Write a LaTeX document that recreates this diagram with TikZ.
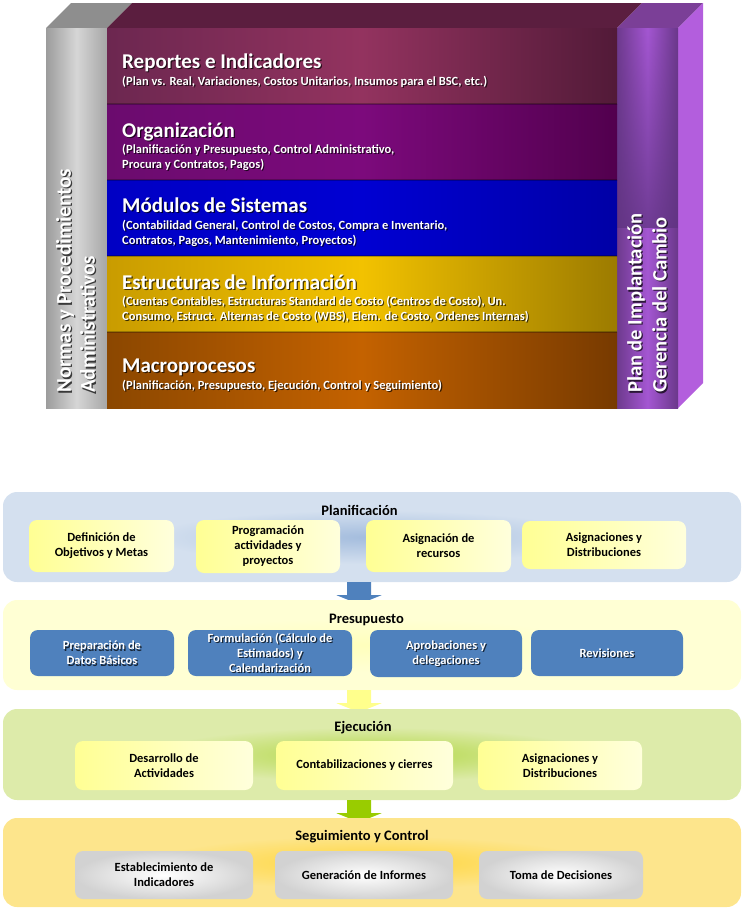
\documentclass[tikz,border=0pt]{standalone}
\usepackage{fontspec}
\setmainfont{Carlito}
\usetikzlibrary{calc,shadings,fadings}
\definecolor{graytop}{HTML}{8E8E8E}
\definecolor{grayL}{HTML}{9C9C9C}
\definecolor{grayM}{HTML}{D6D6D6}
\definecolor{grayR}{HTML}{A6A6A6}
\definecolor{maintop}{HTML}{5B1E3F}
\definecolor{repL}{HTML}{6C2750}
\definecolor{repM}{HTML}{93335F}
\definecolor{repR}{HTML}{521A38}
\definecolor{orgL}{HTML}{6B0B6E}
\definecolor{orgM}{HTML}{7C0A7C}
\definecolor{orgR}{HTML}{52004E}
\definecolor{modL}{HTML}{0000C4}
\definecolor{modM}{HTML}{0000D2}
\definecolor{modR}{HTML}{0000A6}
\definecolor{estL}{HTML}{C99C00}
\definecolor{estM}{HTML}{F2C200}
\definecolor{estR}{HTML}{9C7B00}
\definecolor{macL}{HTML}{8B4700}
\definecolor{macM}{HTML}{C46200}
\definecolor{macR}{HTML}{773A00}
\definecolor{purptop}{HTML}{7B3F97}
\definecolor{purpside}{HTML}{B35EDD}
\definecolor{purpL}{HTML}{6E3A8E}
\definecolor{purpM}{HTML}{A456D2}
\definecolor{purpR}{HTML}{6A388A}
\definecolor{purpdark}{HTML}{5E3380}
\definecolor{planin}{HTML}{A3BCDD}
\definecolor{planout}{HTML}{D4E0EF}
\definecolor{presin}{HTML}{FFFFBC}
\definecolor{presout}{HTML}{FFFFD4}
\definecolor{ejecin}{HTML}{B2D745}
\definecolor{ejecout}{HTML}{DDEBAA}
\definecolor{segin}{HTML}{FFD53A}
\definecolor{segout}{HTML}{FDE58C}
\definecolor{boxYL}{HTML}{FFFF94}
\definecolor{boxYR}{HTML}{FFFFDC}
\definecolor{boxB}{HTML}{4F81BD}
\definecolor{boxG}{HTML}{D2D2D2}
\definecolor{arrB}{HTML}{4F81BD}
\definecolor{arrY}{HTML}{FFFF8C}
\definecolor{arrG}{HTML}{99CC00}
\pgfdeclareradialshading{glowplan}{\pgfpoint{0bp}{0bp}}{color(0bp)=(planin); color(15bp)=(planout); color(50bp)=(planout)}
\pgfdeclareradialshading{glowpres}{\pgfpoint{0bp}{0bp}}{color(0bp)=(presin); color(15bp)=(presout); color(50bp)=(presout)}
\pgfdeclareradialshading{glowejec}{\pgfpoint{0bp}{0bp}}{color(0bp)=(ejecin); color(15bp)=(ejecout); color(50bp)=(ejecout)}
\pgfdeclareradialshading{glowseg}{\pgfpoint{0bp}{0bp}}{color(0bp)=(segin); color(15bp)=(segout); color(50bp)=(segout)}
\newcommand\shtext[4]{%
  \node[#1, text=black, opacity=0.7] at ($(#3)+(1.2,1.2)$) {#4};
  \node[#1] (#2) at (#3) {#4};}
\newcommand\seam[1]{% #1 layer node
  \draw[black, opacity=0.25, line width=1.5] (#1.south west) -- (#1.south east);}
\tikzset{
  layer/.style={rectangle, inner sep=0, outer sep=0, minimum width=510, minimum height=76},
  pillar/.style={rectangle, inner sep=0, outer sep=0, minimum width=61, minimum height=380},
  ltitle/.style={anchor=base west, inner sep=0, text=white, font=\fontsize{21}{24}\selectfont\bfseries},
  lsub/.style={anchor=base west, inner sep=0, text=white, align=left, font=\fontsize{12.5}{15}\selectfont\bfseries},
  ptext/.style={rotate=90, anchor=north west, inner sep=0, text=white, align=left},
  section/.style={rectangle, rounded corners=14, inner sep=0, minimum width=738, shade},
  sectitle/.style={inner sep=0, font=\fontsize{14.5}{17}\selectfont\bfseries},
  boxtxt/.style={rectangle, rounded corners=8, inner sep=0, align=center, font=\fontsize{12.5}{15}\selectfont\bfseries},
  ybox/.style={boxtxt, left color=boxYL, right color=boxYR},
  bbox/.style={boxtxt, fill=boxB},
  bboxtext/.style={inner sep=0, align=center, text=white, font=\fontsize{12.5}{15}\selectfont\bfseries},
  gbox/.style={boxtxt, inner color=white, outer color=boxG},
}
\newcommand\blockarrow[2]{% #1 colour, #2 top coordinate
  \fill[#1] (#2) ++(-12,0) -- ++(24,0) -- ++(0,13) -- ++(10.5,0) -- ++(-22.5,9) -- ++(-22.5,-9) -- ++(10.5,0) -- cycle;}
\begin{document}
\begin{tikzpicture}[x=1pt,y=-1pt]
\useasboundingbox (0,0) rectangle (750,908);
% ---------- 3D block ----------
\fill[graytop] (46,28) -- (71,3) -- (132,3) -- (107,28) -- cycle;
\fill[maintop] (107,28) -- (132,3) -- (642,3) -- (617,28) -- cycle;
\fill[purptop] (617,28) -- (642,3) -- (703,3) -- (678,28) -- cycle;
\fill[purpside] (678,28) -- (703,3) -- (703,383) -- (678,408) -- cycle;
\node[pillar, left color=grayL, right color=grayR, middle color=grayM] (normas) at (76.5,218) {};
\node[pillar, left color=purpL, right color=purpR, middle color=purpM] (plan) at (647.5,218) {};
\fill[purpdark, opacity=0.75, path fading=north] (plan.north west) rectangle ($(plan.north east)+(0,200)$);
\node[layer, left color=repL, right color=repR, middle color=repM] (rep) at (362,66) {};
\node[layer, left color=orgL, right color=orgR, middle color=orgM] (org) at (362,142) {};
\node[layer, left color=modL, right color=modR, middle color=modM] (mod) at (362,218) {};
\node[layer, left color=estL, right color=estR, middle color=estM] (est) at (362,294) {};
\node[layer, left color=macL, right color=macR, middle color=macM] (mac) at (362,370) {};
\seam{rep}\seam{org}\seam{mod}\seam{est}
\shtext{ltitle}{repT}{122,68.5}{Reportes e Indicadores}
\shtext{lsub}{repS}{122,85}{(Plan vs. Real, Variaciones, Costos Unitarios, Insumos para el BSC, etc.)}
\shtext{ltitle}{orgT}{122,137}{Organización}
\shtext{lsub}{orgS}{122,168}{(Planificación y Presupuesto, Control Administrativo,\\Procura y Contratos, Pagos)}
\shtext{ltitle}{modT}{122,212}{Módulos de Sistemas}
\shtext{lsub}{modS}{122,244}{(Contabilidad General, Control de Costos, Compra e Inventario,\\Contratos, Pagos, Mantenimiento, Proyectos)}
\shtext{ltitle}{estT}{122,289}{Estructuras de Información}
\shtext{lsub}{estS}{122,320}{(Cuentas Contables, Estructuras Standard de Costo (Centros de Costo), Un.\\Consumo, Estruct. Alternas de Costo (WBS), Elem. de Costo, Ordenes Internas)}
\shtext{ltitle}{macT}{122,372}{Macroprocesos}
\shtext{lsub}{macS}{122,389}{(Planificación, Presupuesto, Ejecución, Control y Seguimiento)}
\shtext{ptext, font=\fontsize{21}{24}\selectfont\bfseries}{normasT}{56,393}{Normas y Procedimientos\\Administrativos}
\shtext{ptext, font=\fontsize{20.5}{25}\selectfont\bfseries}{planT}{627,393}{Plan de Implantación\\Gerencia del Cambio}
% ---------- process ----------
\node[section, shading=glowplan, minimum height=90] (splan) at (372,537) {};
\blockarrow{arrB}{$(splan.south)+(-13,0)$}
\node[section, shading=glowpres, minimum height=90] (spres) at (372,645) {};
\blockarrow{arrY}{$(spres.south)+(-13,0)$}
\node[section, shading=glowejec, minimum height=91] (sejec) at (372,754.5) {};
\blockarrow{arrG}{$(sejec.south)+(-13,0)$}
\node[section, shading=glowseg, minimum height=89] (sseg) at (372,862.5) {};
\node[sectitle] (tplan) at (359.5,510) {Planificación};
\node[sectitle] (tpres) at (366.5,620) {Presupuesto};
\node[sectitle] (tejec) at (363,728) {Ejecución};
\node[sectitle] (tseg) at (362,837) {Seguimiento y Control};
% Planificacion boxes
\node[ybox, minimum width=145, minimum height=52] (p1) at (101.5,546) {Definición de\\Objetivos y Metas};
\node[ybox, minimum width=144, minimum height=53] (p2) at (268,546.5) {Programación\\actividades y\\proyectos};
\node[ybox, minimum width=145, minimum height=52] (p3) at (438.5,546) {Asignación de\\recursos};
\node[ybox, minimum width=164, minimum height=48] (p4) at (604,545) {Asignaciones y\\Distribuciones};
% Presupuesto boxes
\node[bbox, minimum width=144, minimum height=46] (r1) at (102,653) {};
\node[bbox, minimum width=164, minimum height=46] (r2) at (270,653) {};
\node[bbox, minimum width=152, minimum height=47] (r3) at (446,653.5) {};
\node[bbox, minimum width=152, minimum height=46] (r4) at (607,653) {};
\shtext{bboxtext}{r1T}{r1.center}{Preparación de\\Datos Básicos}
\shtext{bboxtext}{r2T}{r2.center}{Formulación (Cálculo de\\Estimados) y\\Calendarización}
\shtext{bboxtext}{r3T}{r3.center}{Aprobaciones y\\delegaciones}
\shtext{bboxtext}{r4T}{r4.center}{Revisiones}
% Ejecucion boxes
\node[ybox, minimum width=178, minimum height=49] (e1) at (164,765.5) {Desarrollo de\\Actividades};
\node[ybox, minimum width=177, minimum height=49] (e2) at (364.5,765.5) {Contabilizaciones y cierres};
\node[ybox, minimum width=164, minimum height=49] (e3) at (560,765.5) {Asignaciones y\\Distribuciones};
% Seguimiento boxes
\node[gbox, minimum width=178, minimum height=48] (s1) at (164,875) {Establecimiento de\\Indicadores};
\node[gbox, minimum width=178, minimum height=48] (s2) at (364,875) {Generación de Informes};
\node[gbox, minimum width=164, minimum height=48] (s3) at (561,875) {Toma de Decisiones};
\end{tikzpicture}
\end{document}
